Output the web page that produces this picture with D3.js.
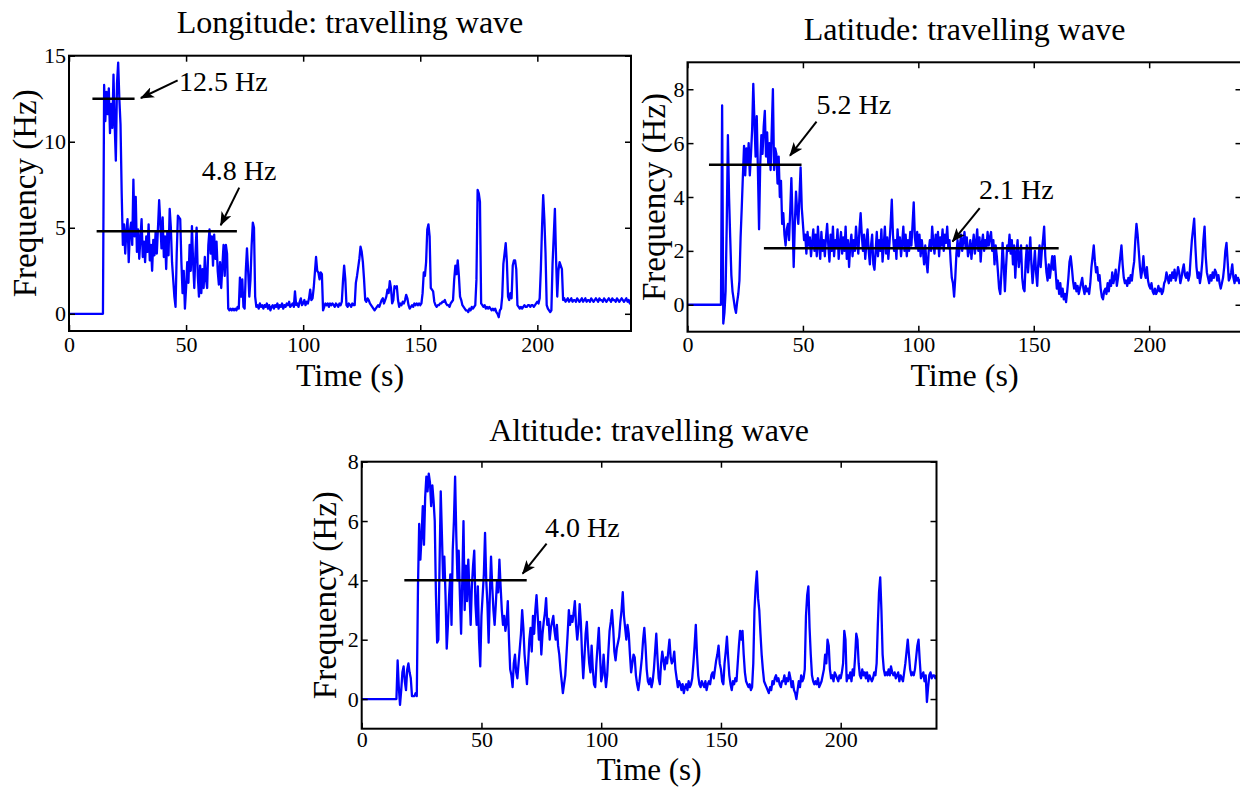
<!DOCTYPE html>
<html>
<head>
<meta charset="utf-8">
<script src="https://cdn.jsdelivr.net/npm/d3@7"></script>
<style>
  body { margin: 0; background: #fff; }
  svg { display: block; }
  text { font-family: "Liberation Serif", "Times New Roman", serif; fill: #000; }
</style>
</head>
<body>
<svg id="chart" width="1240" height="787"></svg>
<script>
// ---- data: dominant frequency sampled every 0.5 s (t = 0 … 240 s) ----
const timeStep = 0.5;
const timeDomain = [0, 240];
const timeTicks = [0, 50, 100, 150, 200];
const timeTickLabels = ["0", "50", "100", "150", "200"];

const lonTicks = [0, 5, 10, 15];
const lonTickLabels = ["0", "5", "10", "15"];
const latTicks = [0, 2, 4, 6, 8];
const latTickLabels = ["0", "2", "4", "6", "8"];
const altTicks = [0, 2, 4, 6, 8];
const altTickLabels = ["0", "2", "4", "6", "8"];

const lonFreq = [
  0,0,0,0,0,0,0,0,0,0, 0,0,0,0,0,0,0,0,0,0,
  0,0,0,0,0,0,0,0,0,0, 13.3,11.2,12.9,11.6,13.1,10.5,12.2,10.8,13.9,11.0,
  8.9,13.4,14.6,12.5,11.0,7.0,4.0,5.2,3.5,4.8, 5.5,3.0,4.8,5.3,4.0,7.8,4.5,6.8,3.6,4.9,
  3.2,4.4,5.5,3.3,4.2,3.0,4.5,3.6,5.2,3.1, 4.0,2.5,4.3,3.4,4.8,3.5,5.0,6.6,5.3,3.8,
  5.6,3.3,4.5,2.6,4.8,3.4,6.1,5.0,3.0,2.0, 1.0,0.4,3.5,5.7,5.6,5.5,3.0,1.2,2.5,0.3,
  1.5,3.0,1.8,4.0,2.5,5.1,3.0,1.5,3.5,5.0, 2.2,1.0,2.8,1.2,2.6,1.5,3.3,2.0,1.5,4.0,
  4.9,3.5,4.5,2.8,4.6,3.2,4.2,2.5,1.7,3.0, 1.5,2.8,4.0,2.2,4.0,3.5,0.3,0.2,0.3,0.2,
  0.3,0.2,0.3,0.2,0.4,0.3,2.1,1.0,2.0,0.4, 0.3,2.5,3.8,2.5,1.0,2.0,4.0,5.3,5.0,1.0,
  0.4,0.5,0.3,0.6,0.4,0.5,0.3,0.5,0.4,0.6, 0.3,0.5,0.2,0.4,0.5,0.3,0.5,0.4,0.6,0.3,
  0.5,0.4,0.6,0.3,0.5,0.4,0.6,0.5,0.7,0.4, 0.5,0.6,0.4,1.3,0.5,0.6,0.4,0.7,0.9,0.5,
  0.6,0.8,0.5,0.7,0.6,0.9,1.4,0.8,0.9,1.5, 2.4,3.3,2.5,2.4,2.0,2.4,2.3,0.2,0.4,0.6,
  0.5,0.6,0.4,0.6,0.5,0.6,0.5,0.4,0.6,0.5, 0.4,0.6,0.5,0.7,1.9,2.8,2.0,0.5,0.4,0.6,
  0.5,0.4,0.6,0.5,0.5,1.8,2.2,2.7,3.2,3.9, 3.6,3.0,2.0,0.8,0.7,0.9,0.8,0.6,0.5,0.4,
  0.3,0.2,0.3,0.4,0.5,0.4,0.6,0.8,0.9,0.6, 0.8,1.0,1.4,1.2,1.9,1.5,0.6,0.8,1.6,1.5,
  1.6,0.8,0.4,0.6,0.5,0.7,0.6,0.8,1.1,0.9, 0.5,0.3,0.4,0.5,0.4,0.6,0.5,0.6,0.5,0.6,
  0.5,0.6,1.2,2.4,2.2,3.0,4.9,5.2,4.5,1.5, 1.4,1.3,0.7,0.5,0.4,0.5,0.5,0.6,0.6,0.7,
  0.7,0.8,0.6,0.5,0.5,0.4,0.6,0.7,0.8,2.0, 2.8,2.3,3.1,2.2,1.0,0.8,0.5,0.4,0.3,0.2,
  0.2,0.1,0.3,0.2,0.4,0.3,0.4,0.5,2.0,7.2, 7.0,6.5,0.6,0.5,0.4,0.5,0.3,0.4,0.3,0.4,
  0.3,0.2,0.3,0.2,0.3,0.1,0.0,-0.2,0.2,0.3, 1.0,2.9,3.5,4.1,3.0,1.0,0.8,1.2,0.9,2.8,
  3.1,3.1,2.6,0.5,0.4,0.3,0.4,0.3,0.4,0.5, 0.4,0.4,0.5,0.5,0.4,0.5,0.5,0.4,0.5,0.6,
  0.7,0.6,0.9,2.6,5.0,6.9,5.5,3.5,0.5,0.3, 0.2,0.1,0.2,2.9,4.5,6.1,3.2,1.0,2.5,3.0,
  2.8,2.6,0.8,0.9,0.7,0.8,0.9,0.7,0.8,0.9, 0.7,0.8,0.8,0.7,0.9,0.8,0.7,0.8,0.9,0.7,
  0.8,0.9,0.7,0.8,0.8,0.7,0.9,0.8,0.7,0.8, 0.9,0.8,0.7,0.9,0.8,0.8,0.7,0.9,0.8,0.7,
  0.8,0.9,0.8,0.7,0.9,0.8,0.8,0.7,0.9,0.8, 0.7,0.8,0.9,0.8,0.7,0.8,0.9,0.7,0.8,0.6,
  0.8
];

const latFreq = [
  0,0,0,0,0,0,0,0,0,0, 0,0,0,0,0,0,0,0,0,0,
  0,0,0,0,0,0,0,0,0,0, 7.4,-0.7,-0.3,0.5,3.0,6.3,4.0,2.5,1.1,0.5,
  0.2,-0.1,-0.3,0.1,0.4,0.9,2.5,3.6,4.8,5.9, 4.8,5.8,5.2,6.0,4.8,5.6,6.5,8.2,6.8,5.5,
  7.0,5.0,2.8,5.2,6.3,5.6,6.6,7.2,5.5,6.4, 5.2,6.0,5.0,6.5,8.0,5.0,5.8,5.6,4.5,5.5,
  4.0,4.6,3.0,3.4,2.6,2.2,2.8,3.0,2.4,3.5, 4.7,3.2,1.4,3.0,4.2,3.5,3.0,4.0,5.1,3.6,
  3.0,2.4,2.6,1.9,2.7,2.2,2.5,1.8,2.3,2.8, 2.0,2.6,1.8,2.9,2.2,1.7,2.7,2.0,2.4,1.8,
  2.5,3.0,2.2,1.6,2.6,2.0,2.9,1.8,2.4,2.1, 2.8,1.7,2.3,2.7,1.9,2.5,2.0,2.9,1.7,2.4,
  1.4,2.2,2.6,1.8,2.4,2.0,2.9,2.3,1.9,2.8, 3.4,2.6,2.0,2.6,1.7,2.3,2.8,2.0,1.5,2.2,
  2.6,1.5,1.3,2.0,2.7,1.8,2.4,2.0,2.8,1.6, 2.2,2.9,1.9,2.5,1.7,2.3,3.0,3.9,2.6,2.0,
  2.4,1.7,2.8,2.1,2.5,1.8,2.3,2.9,2.0,2.6, 1.8,2.4,2.0,2.7,2.2,3.0,3.8,2.5,2.1,2.7,
  2.0,2.6,1.8,2.4,2.0,1.5,2.2,1.6,1.2,2.0, 2.4,2.0,2.9,2.3,1.9,2.6,2.1,2.7,1.8,2.5,
  2.2,2.8,2.0,2.6,2.3,2.9,2.1,2.4,1.6,1.0, 0.8,0.3,1.0,1.9,2.4,1.8,2.2,2.6,2.0,2.4,
  2.7,2.1,2.5,1.8,2.0,2.4,1.7,2.2,2.6,1.9, 2.3,2.8,2.0,2.5,1.6,2.3,2.6,2.0,2.4,2.1,
  2.7,2.2,2.5,2.7,2.0,2.4,1.5,2.2,1.8,1.2, 0.6,0.4,1.2,2.3,1.5,0.5,1.4,2.2,2.0,2.6,
  1.9,2.4,1.5,2.2,1.0,1.9,2.4,1.4,1.8,2.2, 1.0,0.6,0.5,1.6,2.2,1.2,1.8,2.5,1.5,0.8,
  1.4,2.0,1.2,0.7,1.6,2.2,1.4,2.0,2.4,2.9, 1.8,1.2,0.9,1.5,1.0,1.4,1.8,1.3,1.8,1.2,
  0.6,0.9,0.4,0.8,0.3,0.6,0.2,0.4,0.1,0.5, 1.0,1.6,1.8,1.4,0.9,0.6,0.8,0.5,0.7,0.4,
  0.6,0.8,1.0,0.6,0.4,0.7,0.5,0.6,0.4,0.8, 1.4,1.8,2.2,1.6,1.2,1.4,0.9,1.1,0.6,0.3,
  0.2,0.5,0.6,0.4,0.8,0.5,0.9,0.7,1.2,0.8, 1.0,1.3,0.7,1.0,1.4,1.8,2.2,1.5,1.0,0.8,
  0.9,0.7,1.0,0.8,1.1,0.9,1.3,1.6,2.4,3.0, 2.6,2.0,1.4,1.0,1.3,1.8,1.2,1.0,1.4,0.9,
  0.7,0.6,0.8,0.5,0.4,0.6,0.4,0.5,0.7,0.5, 0.6,0.4,0.5,0.8,0.9,1.2,1.0,0.8,1.1,0.9,
  1.2,1.0,1.3,0.9,1.1,1.4,1.2,0.8,1.0,1.3, 1.5,1.1,1.0,1.2,0.9,1.1,1.8,2.4,2.8,3.2,
  2.2,1.4,1.0,1.2,0.8,1.1,1.6,2.4,2.9,1.8, 1.2,1.0,0.8,1.1,0.9,1.2,1.0,1.3,1.2,0.9,
  1.1,0.8,0.6,0.8,1.0,1.4,2.0,2.3,1.6,0.9, 1.0,1.2,1.5,1.0,0.8,1.1,0.9,1.0,0.8,0.9,
  1.0
];

const altFreq = [
  0,0,0,0,0,0,0,0,0,0, 0,0,0,0,0,0,0,0,0,0,
  0,0,0,0,0,0,0,0,0,0, 1.3,0.4,-0.2,0.3,0.9,1.1,0.6,0.3,1.0,1.2,
  0.9,0.7,0.1,0.1,0.1,0.2,0.1,3.8,5.9,4.7, 5.5,6.5,5.2,6.8,7.5,7.0,7.6,7.3,6.5,7.2,
  6.7,6.0,3.5,1.9,2.0,4.5,7.0,5.5,4.0,4.8, 3.5,1.7,2.5,3.5,4.2,2.5,5.0,6.0,7.5,5.5,
  4.0,5.0,3.5,2.2,4.0,6.0,3.0,4.5,3.3,4.7, 3.6,2.5,3.8,4.5,5.0,3.2,2.5,3.8,2.0,1.1,
  2.8,3.5,4.2,5.6,4.0,3.2,1.9,3.5,4.8,3.8, 3.0,2.5,3.2,4.0,3.6,4.7,3.8,3.0,2.5,2.8,
  2.3,2.6,3.3,2.0,1.0,0.8,0.4,1.2,1.5,0.9, 0.7,1.2,1.7,2.2,3.0,2.4,1.5,1.0,0.5,1.2,
  2.0,2.4,1.6,2.8,2.2,3.0,3.5,2.8,2.0,2.6, 1.5,2.2,2.6,2.9,3.4,2.5,2.7,2.0,2.4,2.6,
  2.8,2.3,2.0,2.5,1.8,1.5,1.0,0.6,0.2,0.5, 0.8,1.5,2.2,3.0,2.5,2.8,2.6,2.9,3.3,2.5,
  2.0,2.4,3.2,2.6,1.5,0.7,1.4,2.2,2.6,1.8, 1.2,0.9,1.8,1.0,0.5,0.4,1.2,1.8,2.4,1.5,
  0.6,0.8,1.5,0.9,0.4,0.8,1.6,2.3,2.6,3.0, 2.4,1.6,1.3,1.7,1.9,2.1,2.6,3.0,3.6,2.8,
  2.4,2.0,2.5,2.2,1.5,0.9,1.2,1.5,1.4,0.8, 0.5,0.3,0.6,1.0,1.4,2.0,2.4,1.8,1.0,0.6,
  0.5,0.7,0.4,0.6,1.0,1.6,2.2,1.4,0.7,0.5, 1.2,1.6,1.3,1.0,1.4,1.2,1.6,2.0,1.4,1.2,
  1.3,1.6,1.0,0.7,0.4,0.6,0.5,0.3,0.5,0.2, 0.4,0.5,0.3,0.6,0.4,0.5,0.7,1.2,1.8,2.5,
  1.5,0.8,0.5,0.4,0.6,0.5,0.4,0.6,0.3,0.5, 0.6,0.5,0.8,0.9,0.7,1.0,1.3,1.5,1.8,1.2,
  1.0,0.6,0.5,1.2,1.6,2.1,1.4,0.8,0.5,0.3, 0.6,0.5,0.7,0.6,1.2,1.8,2.3,2.0,2.3,1.5,
  0.9,0.6,0.5,0.4,0.5,0.3,0.4,1.2,3.0,3.8, 4.3,3.4,3.0,2.2,1.5,1.0,0.6,0.5,0.4,0.3,
  0.2,0.4,0.3,0.6,0.5,0.7,0.8,0.6,0.7,0.5, 0.4,0.6,0.6,0.8,0.5,0.7,0.6,0.9,0.7,0.4,
  0.6,0.3,0.2,0.0,0.3,0.6,0.4,0.8,0.6,0.7, 1.0,2.8,3.5,3.8,2.4,1.5,0.8,0.6,0.5,0.6,
  0.5,0.7,0.4,0.5,0.6,0.8,1.0,1.5,1.2,2.0, 1.8,1.0,0.7,0.8,0.6,0.9,0.8,0.7,0.6,0.8,
  0.7,0.9,1.2,2.3,2.0,0.6,0.8,0.7,0.9,0.6, 1.0,0.8,1.4,2.2,2.0,1.2,0.8,0.7,1.0,0.8,
  0.9,0.7,0.9,0.6,0.8,0.7,0.6,0.7,0.9,0.8, 1.2,2.5,3.6,4.1,3.0,1.5,1.0,0.8,0.9,0.8,
  1.0,0.8,1.1,0.9,0.8,0.9,0.7,0.8,0.9,0.6, 0.8,0.7,0.6,0.9,1.2,1.6,2.0,1.5,1.0,0.8,
  0.9,0.8,1.0,1.4,1.8,2.0,1.3,0.7,0.8,0.9, 0.6,0.8,-0.1,0.4,0.8,0.9,0.7,0.8,0.8,0.7,
  0.8
];

// mean-frequency markers: value in Hz and the time span each line covers
const lonMeans = [
  { label: "12.5 Hz", value: 12.5, from: 10, to: 28 },
  { label: "4.8 Hz",  value: 4.8,  from: 11.8, to: 71.7 }
];
const latMeans = [
  { label: "5.2 Hz", value: 5.2, from: 9.3, to: 49.4 },
  { label: "2.1 Hz", value: 2.1, from: 33.1, to: 160.8 }
];
const altMeans = [
  { label: "4.0 Hz", value: 4.0, from: 17.8, to: 68.9 }
];

// ---- layout ----
// callout geometry: label start time, label baseline offset (px above line),
// arrow tail (time, px offset) and arrow tip (time, px offset)
const panels = [
  {
    title: "Longitude: travelling wave", values: lonFreq, means: lonMeans,
    yDomain: [-1, 15], yTicks: lonTicks, yTickLabels: lonTickLabels,
    left: 69, right: 631, top: 55.7, bottom: 331, titleY: 33,
    xLabelY: 385.5, xLabelSize: 32, tickPad: 5, yLabelX: 36,
    callouts: [
      { textT: 47.0, textDy: -7.7, tailT: 46.4, tailDy: -18.4, tipT: 30.7, tipDy: -0.7 },
      { textT: 56.7, textDy: -51.3, tailT: 72.7, tailDy: -43.6, tipT: 64.8, tipDy: -6 }
    ]
  },
  {
    title: "Latitude: travelling wave", values: latFreq, means: latMeans,
    yDomain: [-1, 9], yTicks: latTicks, yTickLabels: latTickLabels,
    left: 687.5, right: 1241.5, top: 62.3, bottom: 331.7, titleY: 40,
    xLabelY: 386, xLabelSize: 32, tickPad: 5, yLabelX: 665,
    callouts: [
      { textT: 55.9, textDy: -50.7, tailT: 55.9, tailDy: -43, tipT: 44.4, tipDy: -9 },
      { textT: 126.3, textDy: -49.3, tailT: 126.6, tailDy: -40, tipT: 114.8, tipDy: -6.6 }
    ]
  },
  {
    title: "Altitude: travelling wave", values: altFreq, means: altMeans,
    yDomain: [-1, 8], yTicks: altTicks, yTickLabels: altTickLabels,
    left: 361.7, right: 936.5, top: 461.7, bottom: 728.7, titleY: 441,
    xLabelY: 779.5, xLabelSize: 31, tickPad: 3, yLabelX: 336,
    callouts: [
      { textT: 76.5, textDy: -43.7, tailT: 77.2, tailDy: -36.7, tipT: 67.2, tipDy: -6.7 }
    ]
  }
];

const svg = d3.select("#chart");
const defs = svg.append("defs");

// arrowhead used by the callouts
defs.append("marker")
  .attr("id", "arrowhead")
  .attr("viewBox", "0 0 14 11")
  .attr("refX", 13).attr("refY", 5.5)
  .attr("markerWidth", 14).attr("markerHeight", 11)
  .attr("markerUnits", "userSpaceOnUse")
  .attr("orient", "auto")
  .append("path")
  .attr("d", "M0,0 L14,5.5 L0,11 L3.5,5.5 Z")
  .attr("fill", "#000");

panels.forEach((p, k) => {
  const x = d3.scaleLinear().domain(timeDomain).range([p.left, p.right]);
  const y = d3.scaleLinear().domain(p.yDomain).range([p.bottom, p.top]);
  const g = svg.append("g");

  const clipId = "clip" + k;
  defs.append("clipPath").attr("id", clipId)
    .append("rect")
    .attr("x", p.left).attr("y", p.top)
    .attr("width", p.right - p.left).attr("height", p.bottom - p.top);

  // frequency trace
  const line = d3.line()
    .x((d, i) => x(i * timeStep))
    .y(d => y(d));
  g.append("path")
    .datum(p.values)
    .attr("clip-path", `url(#${clipId})`)
    .attr("d", line)
    .attr("fill", "none")
    .attr("stroke", "#0000ff")
    .attr("stroke-width", 2.3)
    .attr("stroke-linejoin", "round");

  // axes with inward ticks on all four sides
  const styleAxis = sel => {
    sel.select(".domain").remove();
    sel.selectAll(".tick line").attr("stroke", "#000").attr("stroke-width", 1.5);
    sel.selectAll(".tick text")
      .attr("font-family", '"Liberation Serif", "Times New Roman", serif')
      .attr("font-size", 22).attr("fill", "#000");
  };
  g.append("g").attr("transform", `translate(0,${p.bottom})`)
    .call(d3.axisBottom(x).tickValues(timeTicks)
      .tickFormat((d, i) => timeTickLabels[i]).tickSize(-6).tickPadding(p.tickPad))
    .call(styleAxis);
  g.append("g").attr("transform", `translate(0,${p.top})`)
    .call(d3.axisTop(x).tickValues(timeTicks).tickFormat("").tickSize(-6))
    .call(styleAxis);
  g.append("g").attr("transform", `translate(${p.left},0)`)
    .call(d3.axisLeft(y).tickValues(p.yTicks)
      .tickFormat((d, i) => p.yTickLabels[i]).tickSize(-6).tickPadding(3))
    .call(styleAxis);
  g.append("g").attr("transform", `translate(${p.right},0)`)
    .call(d3.axisRight(y).tickValues(p.yTicks).tickFormat("").tickSize(-6))
    .call(styleAxis);

  // frame
  g.append("rect")
    .attr("x", p.left).attr("y", p.top)
    .attr("width", p.right - p.left).attr("height", p.bottom - p.top)
    .attr("fill", "none").attr("stroke", "#000").attr("stroke-width", 2);

  // titles and axis labels
  const cx = (p.left + p.right) / 2;
  g.append("text").attr("x", cx).attr("y", p.titleY)
    .attr("text-anchor", "middle").attr("font-size", 32).text(p.title);
  g.append("text").attr("x", cx).attr("y", p.xLabelY)
    .attr("text-anchor", "middle").attr("font-size", p.xLabelSize).text("Time (s)");
  g.append("text")
    .attr("transform", `translate(${p.yLabelX},${(p.top + p.bottom) / 2}) rotate(-90)`)
    .attr("text-anchor", "middle").attr("font-size", 33).text("Frequency (Hz)");

  // mean lines with labelled arrows
  p.means.forEach((m, j) => {
    const c = p.callouts[j];
    const ly = y(m.value);
    g.append("line")
      .attr("x1", x(m.from)).attr("x2", x(m.to))
      .attr("y1", ly).attr("y2", ly)
      .attr("stroke", "#000").attr("stroke-width", 2.5);
    g.append("line")
      .attr("x1", x(c.tailT)).attr("y1", ly + c.tailDy)
      .attr("x2", x(c.tipT)).attr("y2", ly + c.tipDy)
      .attr("stroke", "#000").attr("stroke-width", 2)
      .attr("marker-end", "url(#arrowhead)");
    g.append("text")
      .attr("x", x(c.textT)).attr("y", ly + c.textDy)
      .attr("font-size", 28).text(m.label);
  });
});
</script>
</body>
</html>
